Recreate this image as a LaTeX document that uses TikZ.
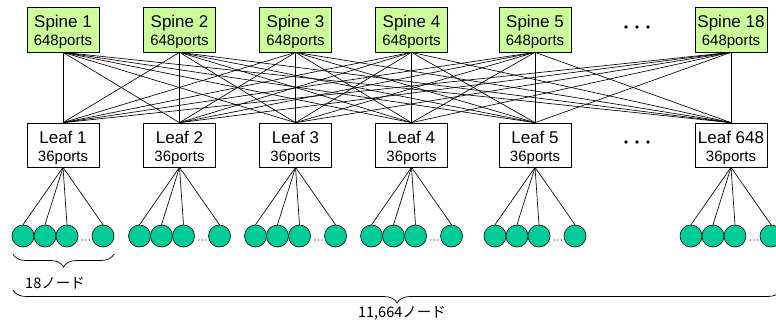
\documentclass[tikz,border=0pt]{standalone}
\usepackage{fontspec}
\setmainfont{Liberation Sans}
\newfontfamily\jpfont{Noto Sans CJK JP}
\usetikzlibrary{decorations.pathreplacing}
\definecolor{spinefill}{RGB}{204,255,153}
\definecolor{hostfill}{RGB}{0,204,153}
\tikzset{
  switchbox/.style={draw=black, line width=0.7pt, minimum width=72pt, minimum height=45pt,
    inner sep=0pt, align=center, font=\fontsize{15}{18}\selectfont},
  spinebox/.style={switchbox, fill=spinefill},
  leafbox/.style={switchbox, fill=white, minimum height=44pt},
  host/.style={circle, draw=black, line width=0.6pt, fill=hostfill, minimum size=22pt, inner sep=0pt},
  link/.style={line width=0.65pt},
  bracestyle/.style={decorate, decoration={brace, mirror, amplitude=13pt}, line width=0.7pt},
  countlabel/.style={font=\jpfont\fontsize{14.5}{14.5}\selectfont, inner sep=0pt},
}
% two-line switch label: name on top, port count below
\newcommand{\boxlabel}[2]{\rule{0pt}{18pt}{\fontsize{17}{18}\selectfont #1}\\#2}

\begin{document}
\begin{tikzpicture}[x=1pt, y=1pt]
\useasboundingbox (0,0) rectangle (776,-324);

% spine switches
\foreach \n/\x/\lab in {1/63/1, 2/179.5/2, 3/295.5/3, 4/411.5/4, 5/535/5, 6/731/18}
  \node[spinebox] (s\n) at (\x,-29.5) {\boxlabel{Spine \lab}{648ports}};

% leaf switches
\foreach \n/\x/\lab in {1/63/1, 2/179.5/2, 3/295.5/3, 4/411.5/4, 5/535/5, 6/731/648}
  \node[leafbox] (l\n) at (\x,-145) {\boxlabel{Leaf \lab}{36ports}};

% full mesh between spines and leaves
\foreach \i in {1,...,6}
  \foreach \j in {1,...,6}
    \draw[link] (s\i.south) -- (l\j.north);

% compute nodes under each leaf
\foreach \n/\x in {1/63, 2/179.5, 3/295.5, 4/411.5, 5/535, 6/731} {
  \foreach \k/\dx in {1/-40, 2/-18, 3/4, 4/40}
    \node[host] (h\n\k) at (\x+\dx,-236) {};
  \foreach \k in {1,...,4}
    \draw[link] (l\n.south) -- (h\n\k.north);
  \foreach \dx in {19.5, 23, 26.5}
    \fill (\x+\dx,-240) circle (0.7);
}

% ellipses for the omitted switches
\foreach \x in {626, 637, 648} {
  \fill (\x,-27) circle (1.8);
  \fill (\x,-142) circle (1.8);
}

% node counts
\coordinate (b1l) at (13,-254);
\coordinate (b1r) at (114,-254);
\draw[bracestyle] (b1l) -- (b1r);
\node[countlabel] (n18) at (55,-283) {18ノード};

\coordinate (b2l) at (13,-290);
\coordinate (b2r) at (781,-290);
\draw[bracestyle] (b2l) -- (b2r);
\node[countlabel] (nall) at (402,-313) {11,664ノード};
\end{tikzpicture}
\end{document}
